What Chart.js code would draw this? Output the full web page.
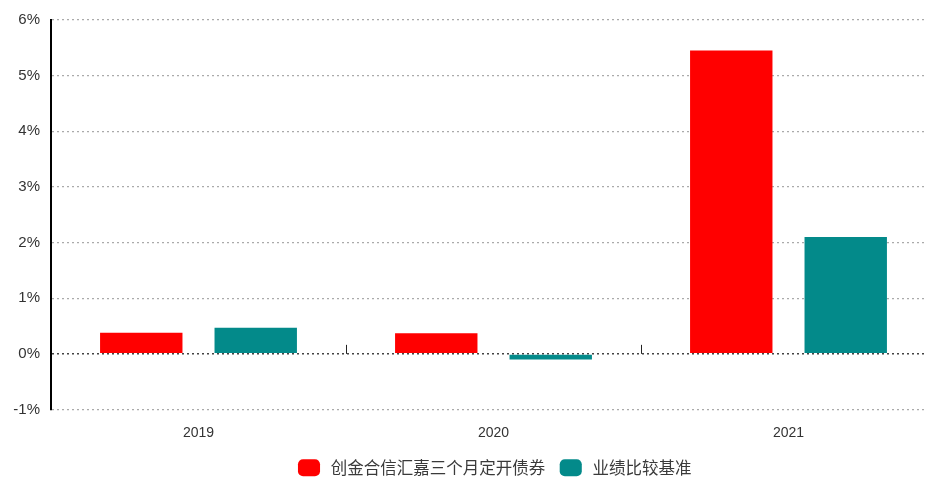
<!DOCTYPE html>
<html>
<head>
<meta charset="UTF-8">
<title>业绩比较</title>
<script src="https://cdn.jsdelivr.net/npm/chart.js@4/dist/chart.umd.min.js"></script>
<style>
body { margin:0; overflow:hidden; background:#fff; }
#wrap { width:936px; height:486px; }
</style>
</head>
<body>
<div id="wrap"><canvas id="myChart"></canvas></div>
<script>
var years = ['2019', '2020', '2021'];
var fundName = '创金合信汇嘉三个月定开债券';
var benchName = '业绩比较基准';
var fundData = [0.38, 0.37, 5.45];
var benchData = [0.47, -0.10, 2.10];
var yTicks = [-1, 0, 1, 2, 3, 4, 5, 6];

// 0%线上的小刻度
var zeroTicks = {
    id: 'zeroTicks',
    afterDatasetsDraw: function(chart) {
        var x = chart.scales.x, y = chart.scales.y;
        var ctx = chart.ctx;
        var y0 = y.getPixelForValue(0);
        ctx.save();
        ctx.strokeStyle = '#222';
        ctx.lineWidth = 1;
        for (var i = 1; i < years.length; i++) {
            var px = Math.round((x.getPixelForValue(i - 1) + x.getPixelForValue(i)) / 2) + 0.5;
            ctx.beginPath();
            ctx.moveTo(px, y0);
            ctx.lineTo(px, y0 - 9);
            ctx.stroke();
        }
        ctx.restore();
    }
};

var ctx = document.getElementById('myChart').getContext('2d');
var myChart = new Chart(ctx, {
    type: 'bar',
    data: {
        labels: years,
        datasets: [{
            label: fundName,
            data: fundData,
            backgroundColor: '#ff0000',
            categoryPercentage: 0.776,
            barPercentage: 0.72
        }, {
            label: benchName,
            data: benchData,
            backgroundColor: '#038a8a',
            categoryPercentage: 0.776,
            barPercentage: 0.72
        }]
    },
    options: {
        responsive: true,
        maintainAspectRatio: false,
        animation: false,
        layout: { padding: { top: 20, left: 0, right: 0, bottom: 0 } },
        plugins: {
            tooltip: { enabled: false },
            legend: {
                position: 'bottom',
                fullSize: false,
                labels: {
                    usePointStyle: true,
                    pointStyle: 'rectRounded',
                    pointStyleWidth: 27,
                    boxHeight: 14,
                    padding: 12,
                    color: '#3a3a3a',
                    font: { family: '"Noto Sans CJK SC", "Noto Sans", sans-serif', size: 16.5 }
                }
            }
        },
        scales: {
            x: {
                grid: { display: false, drawTicks: false },
                border: { display: false },
                ticks: {
                    color: '#333',
                    padding: 15,
                    font: { family: 'Arial, "Liberation Sans", sans-serif', size: 14 }
                },
                afterFit: function(s) { s.height = 38; }
            },
            y: {
                min: -1,
                max: 6,
                afterBuildTicks: function(s) { s.ticks = yTicks.map(function(v) { return { value: v }; }); },
                grid: {
                    drawTicks: false,
                    color: function(c) { return c.tick && c.tick.value === 0 ? '#444' : '#aaa'; },
                    lineWidth: function(c) { return c.tick && c.tick.value === 0 ? 1.6 : 1.2; }
                },
                border: { display: true, color: '#000', width: 2, dash: [2, 3] },
                ticks: {
                    color: '#333',
                    padding: 11,
                    font: { family: 'Arial, "Liberation Sans", sans-serif', size: 15 },
                    callback: function(v) { return v + '%'; }
                },
                afterFit: function(s) { s.width = 51; }
            }
        }
    },
    plugins: [zeroTicks]
});
</script>
</body>
</html>
